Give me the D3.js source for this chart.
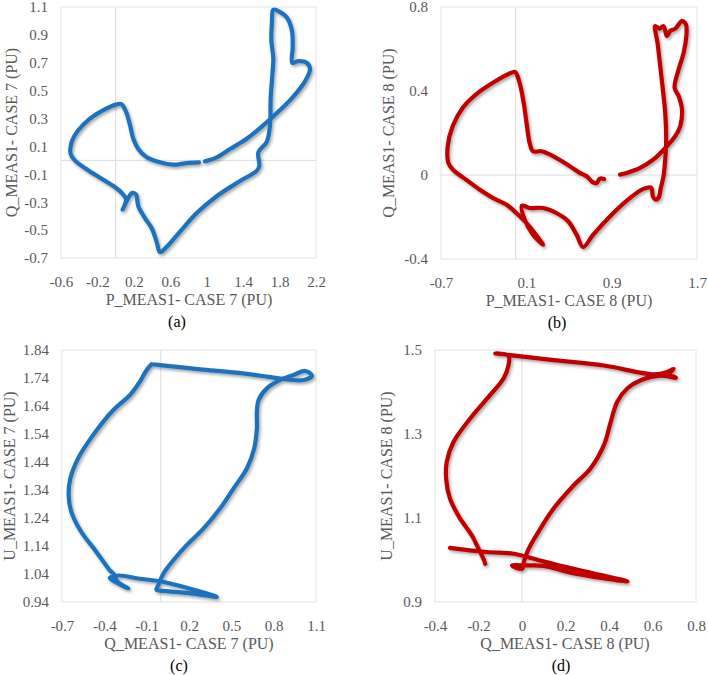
<!DOCTYPE html>
<html>
<head>
<meta charset="utf-8">
<script src="https://d3js.org/d3.v7.min.js"></script>
<style>
  body { margin:0; background:#fff; }
  .tick text { font-size:15px; fill:#595959; }
  .title { font-size:16px; fill:#595959; }
  .tag { font-size:16px; fill:#000; }
</style>
</head>
<body>
<script>
// (a) case 7, P vs Q
var pq7P = [0.915,0.780,0.633,0.487,0.341,0.249,0.194,0.158,0.114,0.066,0.011,-0.135,-0.282,-0.410,-0.483,-0.494,-0.446,-0.318,-0.172,-0.025,0.066,0.114,0.077,0.103,0.139,0.183,0.224,0.249,0.322,0.396,0.450,0.487,0.560,0.707,0.890,1.109,1.365,1.548,1.578,1.567,1.658,1.695,1.702,1.724,1.731,1.710,1.717,1.731,1.786,1.878,1.936,1.944,1.940,2.006,2.098,2.134,2.079,1.951,1.805,1.622,1.439,1.256,1.109,0.981];
var pq7Q = [-0.014,-0.019,-0.031,-0.014,0.022,0.082,0.155,0.252,0.349,0.402,0.402,0.361,0.300,0.216,0.131,0.046,-0.002,-0.063,-0.124,-0.184,-0.233,-0.281,-0.354,-0.317,-0.269,-0.233,-0.245,-0.329,-0.414,-0.487,-0.584,-0.657,-0.620,-0.511,-0.378,-0.257,-0.148,-0.075,-0.039,0.058,0.131,0.252,0.446,0.640,0.737,0.858,1.003,1.081,1.071,1.027,0.930,0.809,0.700,0.712,0.700,0.652,0.567,0.458,0.361,0.252,0.155,0.082,0.022,-0.007];

// (b) case 8, P vs Q
var pq8P = [0.828,0.790,0.759,0.721,0.665,0.602,0.508,0.351,0.241,0.163,0.131,0.106,0.075,0.037,-0.004,-0.041,-0.214,-0.371,-0.496,-0.590,-0.637,-0.631,-0.590,-0.465,-0.339,-0.214,-0.088,0.006,0.100,0.178,0.257,0.163,0.084,0.059,0.131,0.257,0.382,0.492,0.571,0.633,0.727,0.916,1.073,1.198,1.270,1.286,1.308,1.339,1.361,1.386,1.402,1.411,1.402,1.380,1.355,1.330,1.308,1.349,1.386,1.418,1.449,1.496,1.559,1.596,1.600,1.575,1.528,1.490,1.528,1.559,1.543,1.496,1.418,1.292,1.167,1.041,0.978];
var pq8Q = [-0.019,-0.017,-0.038,-0.034,-0.006,0.010,0.042,0.090,0.113,0.113,0.153,0.233,0.344,0.439,0.490,0.487,0.439,0.384,0.320,0.233,0.137,0.058,0.026,-0.022,-0.069,-0.109,-0.141,-0.181,-0.228,-0.276,-0.332,-0.284,-0.212,-0.146,-0.157,-0.157,-0.181,-0.220,-0.284,-0.343,-0.284,-0.181,-0.109,-0.066,-0.061,-0.101,-0.117,-0.109,-0.061,-0.006,0.074,0.169,0.296,0.407,0.519,0.630,0.709,0.697,0.709,0.662,0.686,0.697,0.733,0.717,0.662,0.582,0.503,0.415,0.376,0.312,0.233,0.185,0.137,0.074,0.034,0.010,0.002];

// (c) case 7, Q vs U
var qu7Q = [-0.065,-0.101,-0.148,-0.219,-0.338,-0.480,-0.586,-0.641,-0.653,-0.634,-0.563,-0.456,-0.361,-0.326,-0.361,-0.302,-0.231,-0.314,-0.314,-0.148,-0.006,0.183,0.397,0.231,0.041,-0.030,-0.018,0.018,0.089,0.183,0.302,0.420,0.515,0.610,0.662,0.681,0.681,0.693,0.752,0.847,0.941,1.024,1.072,1.012,0.894,0.752,0.515,0.278,-0.006,-0.065];
var qu7U = [1.789,1.768,1.727,1.679,1.625,1.536,1.453,1.381,1.321,1.262,1.190,1.119,1.053,1.035,1.026,1.006,0.988,1.017,1.033,1.023,1.014,0.991,0.958,0.970,0.979,0.984,1.000,1.041,1.089,1.143,1.202,1.274,1.345,1.417,1.488,1.560,1.619,1.661,1.703,1.733,1.751,1.765,1.748,1.733,1.735,1.745,1.760,1.771,1.786,1.789];

// (d) case 8, Q vs U
var qu8Q = [-0.169,-0.177,-0.200,-0.231,-0.285,-0.331,-0.349,-0.346,-0.315,-0.238,-0.146,-0.085,-0.062,-0.062,-0.123,-0.054,0.146,0.377,0.608,0.669,0.697,0.677,0.708,0.638,0.546,0.485,0.438,0.408,0.377,0.315,0.238,0.146,0.085,0.031,0.008,0.000,-0.046,0.023,0.100,0.223,0.485,0.331,0.177,0.054,-0.038,-0.162,-0.331];
var qu8U = [0.991,1.003,1.027,1.059,1.099,1.146,1.194,1.234,1.281,1.337,1.393,1.432,1.464,1.486,1.492,1.488,1.476,1.463,1.442,1.448,1.455,1.442,1.434,1.439,1.428,1.409,1.377,1.329,1.274,1.218,1.178,1.123,1.075,1.027,0.995,0.979,0.987,0.987,0.986,0.970,0.949,0.968,0.986,1.003,1.015,1.019,1.029];

// tick labels
var ticksAx = ["-0.6","-0.2","0.2","0.6","1","1.4","1.8","2.2"];
var ticksAy = ["-0.7","-0.5","-0.3","-0.1","0.1","0.3","0.5","0.7","0.9","1.1"];
var ticksBx = ["-0.7","0.1","0.9","1.7"];
var ticksBy = ["-0.4","0","0.4","0.8"];
var ticksCx = ["-0.7","-0.4","-0.1","0.2","0.5","0.8","1.1"];
var ticksCy = ["0.94","1.04","1.14","1.24","1.34","1.44","1.54","1.64","1.74","1.84"];
var ticksDx = ["-0.4","-0.2","0","0.2","0.4","0.6","0.8"];
var ticksDy = ["0.9","1.1","1.3","1.5"];

var blue = "#1f72bd", red = "#c00000";
var serif = "'Times New Roman', Times, 'Liberation Serif', Tinos, 'Nimbus Roman', 'Nimbus Roman No9 L', FreeSerif, 'Noto Serif', 'DejaVu Serif', serif";

var panels = [
  {x:pq7P, y:pq7Q, tx:ticksAx, ty:ticksAy, left:61, right:316, top:7, bottom:258, color:blue,
   xt:"P_MEAS1- CASE 7 (PU)", yt:"Q_MEAS1- CASE 7 (PU)", tag:"(a)", ytx:12, xtc:189, tagx:177},
  {x:pq8P, y:pq8Q, tx:ticksBx, ty:ticksBy, left:441, right:697, top:7, bottom:259, color:red,
   xt:"P_MEAS1- CASE 8 (PU)", yt:"Q_MEAS1- CASE 8 (PU)", tag:"(b)", ytx:389, xtc:569, tagx:557},
  {x:qu7Q, y:qu7U, tx:ticksCx, ty:ticksCy, left:62, right:316, top:350, bottom:602, color:blue,
   xt:"Q_MEAS1- CASE 7 (PU)", yt:"U_MEAS1- CASE 7 (PU)", tag:"(c)", ytx:10, xtc:189, tagx:179},
  {x:qu8Q, y:qu8U, tx:ticksDx, ty:ticksDy, left:435, right:696, top:350, bottom:602, color:red,
   xt:"Q_MEAS1- CASE 8 (PU)", yt:"U_MEAS1- CASE 8 (PU)", tag:"(d)", ytx:387, xtc:565, tagx:561}
];

var svg = d3.select("body").append("svg").attr("width",708).attr("height",675)
  .attr("font-family",serif);

var f = svg.append("defs").append("filter").attr("id","shadow")
  .attr("x","-10%").attr("y","-10%").attr("width","120%").attr("height","120%");
f.append("feDropShadow").attr("dx",1.5).attr("dy",2).attr("stdDeviation",1.5)
  .attr("flood-color","#000").attr("flood-opacity",0.35);

panels.forEach(function(p){
  var xv = p.tx.map(Number), yv = p.ty.map(Number);
  var x = d3.scaleLinear().domain(d3.extent(xv)).range([p.left,p.right]);
  var y = d3.scaleLinear().domain(d3.extent(yv)).range([p.bottom,p.top]);
  var g = svg.append("g");

  g.append("rect").attr("x",p.left).attr("y",p.top)
    .attr("width",p.right-p.left).attr("height",p.bottom-p.top)
    .attr("fill","none").attr("stroke","#e3e3e3");
  if (x.domain()[0] < 0 && x.domain()[1] > 0)
    g.append("line").attr("x1",x(0)).attr("x2",x(0)).attr("y1",p.top).attr("y2",p.bottom).attr("stroke","#dcdcdc");
  if (y.domain()[0] < 0 && y.domain()[1] > 0)
    g.append("line").attr("x1",p.left).attr("x2",p.right).attr("y1",y(0)).attr("y2",y(0)).attr("stroke","#dcdcdc");

  var xa = g.append("g").attr("transform","translate(0,"+(p.bottom+15)+")")
    .call(d3.axisBottom(x).tickValues(xv).tickSize(0).tickFormat(function(d,i){return p.tx[i];}));
  xa.select(".domain").remove();
  var ya = g.append("g").attr("transform","translate("+(p.left-13)+",0)")
    .call(d3.axisLeft(y).tickValues(yv).tickSize(0).tickFormat(function(d,i){return p.ty[i];}));
  ya.select(".domain").remove();
  ya.selectAll("text").attr("x",0);
  xa.attr("font-family",serif); ya.attr("font-family",serif);

  var pts = d3.zip(p.x, p.y);
  var line = d3.line().x(function(d){return x(d[0]);}).y(function(d){return y(d[1]);})
    .curve(d3.curveCatmullRom.alpha(0.5));
  g.append("path").attr("d",line(pts)).attr("fill","none").attr("stroke",p.color)
    .attr("stroke-width",4.2).attr("stroke-linejoin","round").attr("stroke-linecap","round")
    .attr("filter","url(#shadow)");

  g.append("text").attr("class","title").attr("x",p.xtc).attr("y",p.bottom+47)
    .attr("text-anchor","middle").text(p.xt);
  g.append("text").attr("class","title").attr("text-anchor","middle")
    .attr("transform","translate("+(p.ytx+5)+","+((p.top+p.bottom)/2)+") rotate(-90)")
    .text(p.yt);
  g.append("text").attr("class","tag").attr("x",p.tagx).attr("y",p.bottom+69)
    .attr("text-anchor","middle").text(p.tag);
});
</script>
</body>
</html>
